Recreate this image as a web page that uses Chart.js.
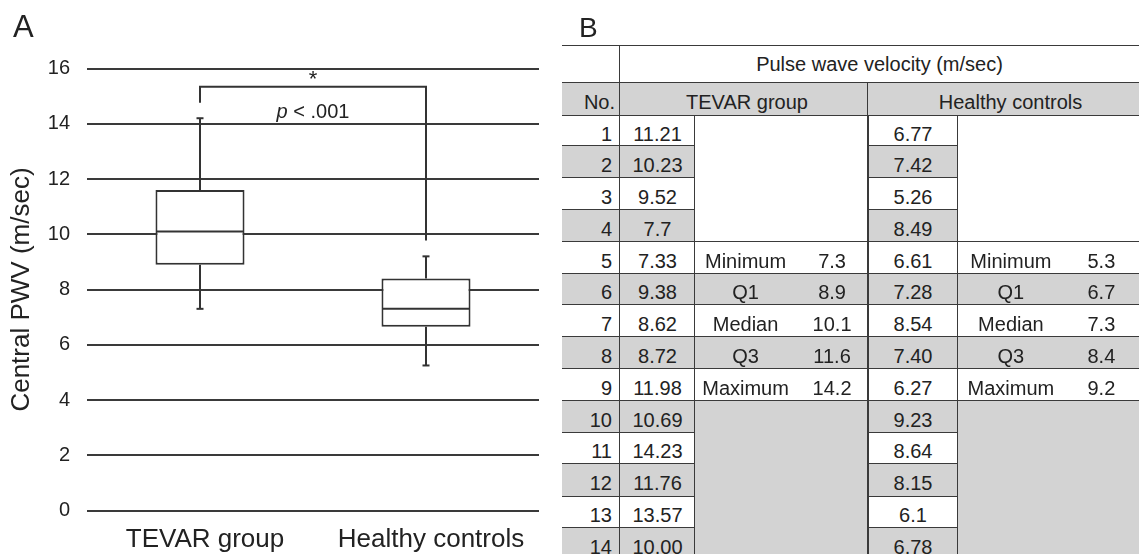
<!DOCTYPE html>
<html><head><meta charset="utf-8">
<script src="https://cdn.jsdelivr.net/npm/chart.js@4.4.1/dist/chart.umd.min.js"></script>
<style>
html,body{margin:0;padding:0;background:#fff;width:1139px;height:554px;overflow:hidden;font-family:"Liberation Sans",Arial,sans-serif;color:#222}
#panelA{position:absolute;left:0;top:0;width:560px;height:554px}
.lbl{position:absolute;line-height:1}
#tbl{position:absolute;left:0;top:0;width:1139px;height:554px;overflow:hidden}
.c{position:absolute;box-sizing:border-box;display:flex;align-items:center;font-size:20px;white-space:nowrap}
.ln{position:absolute;background:#3a3a3a}
</style></head>
<body>
<div id="panelA"><canvas id="c"></canvas></div>
<div id="tbl"></div>
<div class="lbl" style="left:13px;top:11px;font-size:31px">A</div>
<div class="lbl" style="left:579px;top:14px;font-size:28px">B</div>
<script>
// ---------- Panel A data ----------
const groups = ["TEVAR group", "Healthy controls"];
const boxMin = [7.3, 5.25];
const boxQ1 = [8.9, 6.65];
const boxMedian = [10.1, 7.3];
const boxQ3 = [11.6, 8.4];
const boxMax = [14.2, 9.2];
const yMin = 0, yMax = 16, yStep = 2;
const yTitle = "Central PWV (m/sec)";
const bracketTop = 15.34;
const bracketLegEnds = [14.76, 9.77];
const starText = "*";
const starY = 15.36;
const pItalic = "p";
const pRest = " < .001";
const pY = 14.2;

// ---------- Panel B data ----------
const tableTitle = "Pulse wave velocity (m/sec)";
const noHeader = "No.";
const rowNumbers = [1,2,3,4,5,6,7,8,9,10,11,12,13,14];
const tevarValues = ["11.21","10.23","9.52","7.7","7.33","9.38","8.62","8.72","11.98","10.69","14.23","11.76","13.57","10.00"];
const healthyValues = ["6.77","7.42","5.26","8.49","6.61","7.28","8.54","7.40","6.27","9.23","8.64","8.15","6.1","6.78"];
const statLabels = ["Minimum","Q1","Median","Q3","Maximum"];
const tevarStats = ["7.3","8.9","10.1","11.6","14.2"];
const healthyStats = ["5.3","6.7","7.3","8.4","9.2"];

const FONT = '"Liberation Sans", Arial, sans-serif';
Chart.defaults.font.family = FONT;
Chart.defaults.color = '#222';

const boxPlugin = {
  id: 'boxExtras',
  afterDatasetsDraw(chart) {
    const ctx = chart.ctx, xs = chart.scales.x, ys = chart.scales.y;
    const meta = chart.getDatasetMeta(0);
    const line = (x1, y1, x2, y2) => { ctx.beginPath(); ctx.moveTo(x1, y1); ctx.lineTo(x2, y2); ctx.stroke(); };
    ctx.save();
    ctx.strokeStyle = '#333';
    ctx.lineWidth = 2;
    groups.forEach((g, i) => {
      const cx = xs.getPixelForValue(i);
      const bw = meta.data[i].width;
      const pMax = ys.getPixelForValue(boxMax[i]), pMin = ys.getPixelForValue(boxMin[i]);
      line(cx, ys.getPixelForValue(boxQ3[i]), cx, pMax);
      line(cx, ys.getPixelForValue(boxQ1[i]), cx, pMin);
      line(cx - 3.5, pMax, cx + 3.5, pMax);
      line(cx - 3.5, pMin, cx + 3.5, pMin);
      const pMed = ys.getPixelForValue(boxMedian[i]);
      line(cx - bw / 2 + 1, pMed, cx + bw / 2 - 1, pMed);
    });
    // significance bracket
    const x0 = xs.getPixelForValue(0), x1 = xs.getPixelForValue(1);
    const yt = ys.getPixelForValue(bracketTop);
    ctx.beginPath();
    ctx.moveTo(x0, ys.getPixelForValue(bracketLegEnds[0]));
    ctx.lineTo(x0, yt);
    ctx.lineTo(x1, yt);
    ctx.lineTo(x1, ys.getPixelForValue(bracketLegEnds[1]));
    ctx.stroke();
    const mid = (x0 + x1) / 2;
    ctx.fillStyle = '#222';
    ctx.textBaseline = 'alphabetic';
    ctx.textAlign = 'center';
    ctx.font = '22px ' + FONT;
    ctx.fillText(starText, mid, ys.getPixelForValue(starY));
    ctx.textAlign = 'left';
    ctx.font = 'italic 20px ' + FONT;
    const wP = ctx.measureText(pItalic).width;
    ctx.font = '20px ' + FONT;
    const wR = ctx.measureText(pRest).width;
    const start = mid - (wP + wR) / 2;
    const py = ys.getPixelForValue(pY);
    ctx.font = 'italic 20px ' + FONT;
    ctx.fillText(pItalic, start, py);
    ctx.font = '20px ' + FONT;
    ctx.fillText(pRest, start + wP, py);
    ctx.restore();
  }
};

new Chart(document.getElementById('c'), {
  type: 'bar',
  data: {
    labels: groups,
    datasets: [{
      data: groups.map((g, i) => [boxQ1[i], boxQ3[i]]),
      backgroundColor: '#ffffff',
      borderColor: '#333',
      borderWidth: 2,
      borderSkipped: false,
      barPercentage: 0.394,
      categoryPercentage: 1
    }]
  },
  options: {
    responsive: true,
    maintainAspectRatio: false,
    animation: false,
    devicePixelRatio: 1,
    layout: { padding: { top: 68.5, right: 21, left: 0, bottom: 0 } },
    plugins: { legend: { display: false }, tooltip: { enabled: false } },
    scales: {
      x: {
        grid: { display: false, drawTicks: false },
        border: { display: false },
        ticks: { font: { size: 26 }, color: '#222', padding: 14, labelOffset: 5 },
        afterFit(s) { s.height = 43.5; }
      },
      y: {
        min: yMin, max: yMax,
        grid: { color: '#3a3a3a', lineWidth: 2, drawTicks: false },
        border: { display: false },
        ticks: { stepSize: yStep, font: { size: 20 }, color: '#222', padding: 17 },
        title: { display: true, text: yTitle, font: { size: 26 }, color: '#222', padding: { top: 6, bottom: 0 } },
        afterFit(s) { s.width = 87; }
      }
    }
  },
  plugins: [boxPlugin]
});

// ---------- Panel B table ----------
const tbl = document.getElementById('tbl');
const X = [562, 620, 695, 868, 958, 1139];
const YH = [46, 83, 116];
const YR = [116, 146, 178, 210, 242, 274, 305, 337, 369, 401, 433, 464, 497, 528, 560];
const GRAY = '#d3d3d3';
function lineDiv(x, y, w, h) {
  const d = document.createElement('div');
  d.className = 'ln';
  d.style.cssText = `left:${x}px;top:${y}px;width:${w}px;height:${h}px`;
  tbl.appendChild(d);
}
function cell(x0, x1, y0, y1, bg, html, css, drawRight = true) {
  const d = document.createElement('div');
  d.className = 'c';
  d.style.cssText = `left:${x0}px;top:${y0}px;width:${x1 - x0}px;height:${y1 - y0}px;background:${bg};` + (css || '');
  d.innerHTML = html;
  tbl.appendChild(d);
  lineDiv(x0, y1 - 1, x1 - x0, 2);
  if (drawRight && x1 < 1139) lineDiv(x1 - 1, y0 - 1, 2, y1 - y0 + 2);
}
const center = 'justify-content:center;';
const right = (p) => `justify-content:flex-end;padding-right:${p}px;`;
const dshift = 'padding-top:6px;';
// header
lineDiv(X[0], YH[0] - 1, X[5] - X[0], 2);
cell(X[0], X[1], YH[0], YH[1], '#fff', '', '');
cell(X[1], X[5], YH[0], YH[1], '#fff', tableTitle, center);
cell(X[0], X[1], YH[1], YH[2], GRAY, noHeader, right(5) + 'padding-top:5px;');
cell(X[1], X[3], YH[1], YH[2], GRAY, groups[0], center + 'padding-left:6px;padding-top:5px;');
cell(X[3], X[5], YH[1], YH[2], GRAY, groups[1], center + 'padding-left:14px;padding-top:5px;');
// data rows
rowNumbers.forEach((n, r) => {
  const y0 = YR[r], y1 = YR[r + 1];
  const bg = r % 2 === 1 ? GRAY : '#fff';
  cell(X[0], X[1], y0, y1, bg, String(n), right(8) + dshift);
  cell(X[1], X[2], y0, y1, bg, tevarValues[r], center + dshift);
  cell(X[3], X[4], y0, y1, bg, healthyValues[r], center + dshift);
});
const statHtml = (lab, val) =>
  `<span style="display:inline-block;width:107px;text-align:center">${lab}</span><span style="display:inline-block;width:76px;text-align:center">${val}</span>`;
// merged empty stat areas
cell(X[2], X[3], YR[0], YR[4], '#fff', '', '');
cell(X[4], X[5], YR[0], YR[4], '#fff', '', '');
statLabels.forEach((lab, k) => {
  const r = 4 + k;
  const y0 = YR[r], y1 = YR[r + 1];
  const bg = r % 2 === 1 ? GRAY : '#fff';
  cell(X[2], X[3], y0, y1, bg, statHtml(lab, tevarStats[k]), dshift);
  cell(X[4], X[5], y0, y1, bg, statHtml(lab, healthyStats[k]), dshift);
});
cell(X[2], X[3], YR[9], YR[14], GRAY, '', '');
cell(X[4], X[5], YR[9], YR[14], GRAY, '', '');
</script>
</body></html>
